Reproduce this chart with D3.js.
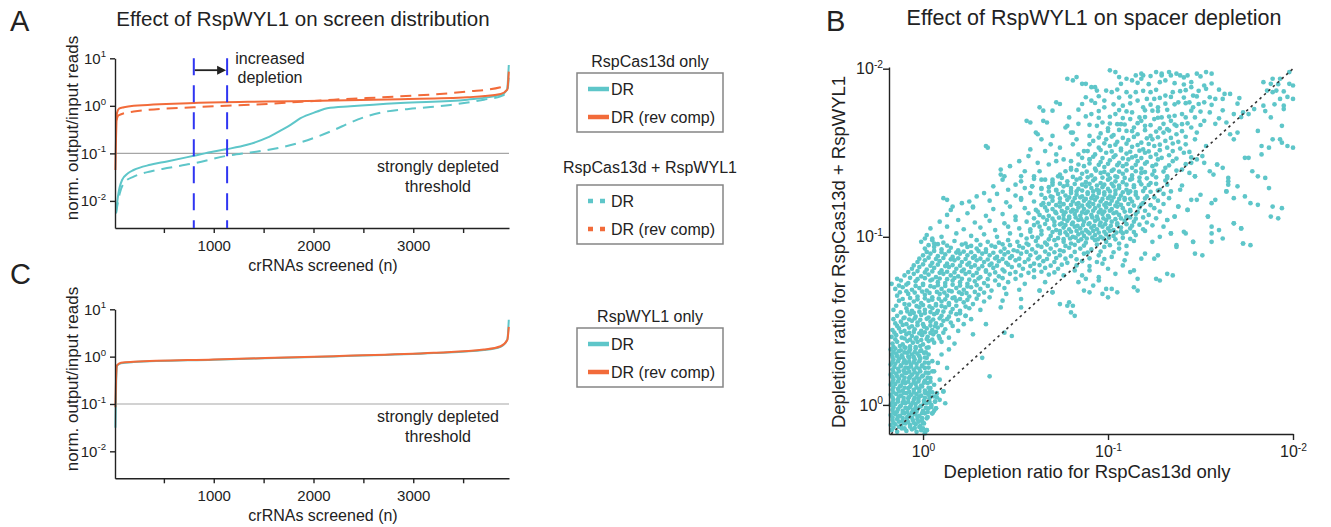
<!DOCTYPE html>
<html>
<head>
<meta charset="utf-8">
<script src="https://cdn.jsdelivr.net/npm/d3@7.9.0/dist/d3.min.js"></script>
<style>
  body { margin: 0; background: #fff; }
  svg text { font-family: "Liberation Sans", Arial, Helvetica, sans-serif; fill: #222; }
</style>
</head>
<body>
<svg id="fig" width="1331" height="527"></svg>
<script>
/* ---------------- data ---------------- */

const DR_COLOR = '#5ec6c9';
const RC_COLOR = '#f26b3a';

// axes
const decadeTicks = [10, 1, 0.1, 0.01];
const rankTicks = [500, 1000, 1500, 2000, 2500, 3000, 3500];
const rankTickLabels = [1000, 2000, 3000];
const depletionTicks = [1, 0.1, 0.01];
const thresholdValue = 0.1;
const depletionShift = [800, 1134];   // blue dashed markers (crRNA rank)

// Panel A: log10(norm. output/input) along crRNA rank
const rankCasDR = [20, 40, 81, 140, 197, 364, 531, 800, 1000, 1134, 1335, 1536, 1669, 1770, 1870, 2037, 2137, 2371, 2873, 3542, 3876, 3940, 3958];
const logCasDR = [-2.26, -1.9, -1.56, -1.42, -1.35, -1.24, -1.17, -1.05, -0.96, -0.91, -0.82, -0.67, -0.52, -0.4, -0.26, -0.12, -0.05, -0.01, 0.06, 0.13, 0.23, 0.34, 0.86];

const rankCasWylDR = [20, 58, 114, 197, 364, 531, 800, 1134, 1369, 1536, 1703, 1870, 2037, 2204, 2371, 2538, 2705, 3040, 3374, 3709, 3876, 3943, 3958];
const logCasWylDR = [-2.26, -1.84, -1.59, -1.49, -1.38, -1.31, -1.21, -1.05, -0.98, -0.93, -0.86, -0.77, -0.65, -0.51, -0.35, -0.22, -0.13, -0.05, 0.02, 0.13, 0.2, 0.3, 0.62];

const rankCasRC = [14, 20, 30, 50, 100, 197, 800, 1536, 2204, 2873, 3542, 3876, 3943, 3958];
const logCasRC = [-1.35, -0.7, -0.15, -0.06, -0.03, 0.0, 0.06, 0.09, 0.11, 0.14, 0.18, 0.25, 0.34, 0.72];

const rankCasWylRC = [25, 45, 197, 800, 1536, 2204, 2873, 3542, 3876, 3950];
const logCasWylRC = [-0.3, -0.2, -0.12, -0.03, 0.04, 0.13, 0.2, 0.3, 0.39, 0.44];

// Panel C: RspWYL1 only
const rankWyl = [14, 22, 31, 70, 197, 1000, 2204, 3207, 3709, 3876, 3943, 3958];
const logWylDR = [-1.5, -0.5, -0.19, -0.14, -0.115, -0.065, 0.005, 0.075, 0.14, 0.21, 0.36, 0.78];
const logWylRC = [-1.07, -0.4, -0.18, -0.13, -0.11, -0.06, 0.01, 0.08, 0.15, 0.22, 0.35, 0.63];

// Panel B: per spacer [-log10 ratio RspCas13d only, -log10 ratio RspCas13d + RspWYL1]
const spacerExponents = [
  // dense cluster near 10^0
  [-.17,-.15],[-.14,-.16],[-.115,-.14],[-.09,-.155],[-.06,-.145],[-.035,-.16],[-.01,-.15],[.01,-.165],[.02,-.15],
  [-.175,-.12],[-.15,-.115],[-.12,-.125],[-.095,-.11],[-.07,-.12],[-.04,-.115],[-.015,-.125],[.005,-.11],
  [-.165,-.09],[-.14,-.085],[-.11,-.095],[-.085,-.08],[-.055,-.09],[-.03,-.085],[-.005,-.095],[.02,-.08],
  [-.175,-.06],[-.15,-.055],[-.125,-.065],[-.1,-.05],[-.075,-.06],[-.045,-.055],[-.02,-.065],[.01,-.05],[.05,-.05],
  [-.165,-.03],[-.135,-.025],[-.11,-.035],[-.08,-.02],[-.055,-.03],[-.03,-.025],[0,-.035],[.03,-.02],[.07,-.02],
  [-.175,0],[-.15,.005],[-.12,-.005],[-.095,.01],[-.065,0],[-.04,.005],[-.01,-.005],[.02,.01],[.045,0],[.065,.02],[.12,.01],
  [-.16,.03],[-.135,.035],[-.105,.025],[-.08,.04],[-.05,.03],[-.025,.035],[.005,.025],[.035,.04],[.06,.05],
  [-.175,.06],[-.145,.065],[-.12,.055],[-.09,.07],[-.065,.06],[-.035,.065],[-.01,.055],[.02,.07],[.05,.075],[.11,.08],
  [-.165,.09],[-.135,.095],[-.11,.085],[-.08,.1],[-.05,.09],[-.02,.095],[.01,.085],[.04,.1],
  [-.175,.12],[-.15,.125],[-.12,.115],[-.095,.13],[-.065,.12],[-.04,.125],[-.01,.115],[.025,.13],[.06,.12],
  [-.16,.15],[-.13,.155],[-.105,.145],[-.075,.16],[-.05,.15],[-.02,.155],[.01,.145],[.04,.16],
  [-.175,.18],[-.145,.185],[-.115,.175],[-.09,.19],[-.06,.18],[-.03,.185],[0,.175],[.03,.19],
  [-.165,.21],[-.135,.215],[-.105,.205],[-.08,.22],[-.05,.21],[-.02,.215],[.01,.22],
  [-.175,.24],[-.15,.245],[-.12,.235],[-.09,.25],[-.065,.24],[-.035,.245],[-.005,.235],[.03,.25],
  [-.16,.27],[-.13,.275],[-.1,.265],[-.075,.28],[-.045,.27],[-.015,.275],[.02,.28],
  [-.17,.3],[-.145,.305],[-.115,.295],[-.085,.31],[-.06,.3],[-.03,.305],[.005,.31],[.03,.3],
  [-.175,.33],[-.15,.335],[-.12,.325],[-.095,.34],[-.07,.33],[-.04,.335],[-.01,.325],[.02,.34],
  [-.16,-.135],[-.13,-.13],[-.1,-.14],[-.07,-.13],[-.045,-.138],[-.02,-.132],[0,-.14],
  [-.165,-.075],[-.135,-.07],[-.11,-.078],[-.085,-.072],[-.06,-.076],[-.03,-.07],[-.005,-.078],[.025,-.072],
  [-.16,-.015],[-.125,-.01],[-.095,-.018],[-.07,-.012],[-.04,-.016],[-.015,-.01],[.015,-.018],[.045,-.012],
  [-.165,.045],[-.13,.05],[-.105,.042],[-.075,.048],[-.045,.044],[-.02,.05],[.01,.042],[.04,.048],[.075,.045],
  [-.16,.105],[-.125,.11],[-.1,.102],[-.07,.108],[-.035,.104],[-.005,.11],[.03,.102],
  [-.165,.165],[-.14,.17],[-.1,.162],[-.07,.168],[-.035,.164],[-.005,.17],[.025,.162],
  [-.155,.225],[-.12,.23],[-.095,.222],[-.065,.228],[-.035,.224],[-.005,.23],[.03,.222],
  [-.165,.285],[-.14,.29],[-.11,.282],[-.08,.288],[-.05,.284],[-.02,.29],[.01,.282],
  [-.16,.345],[-.125,.35],[-.1,.342],[-.07,.348],[-.04,.344],[-.015,.35],[.03,.342],
  [-.16,-.105],[-.13,-.1],[-.105,-.108],[-.08,-.102],[-.05,-.106],[-.025,-.1],[0,-.108],
  [-.16,-.045],[-.14,-.04],[-.11,-.048],[-.085,-.042],[-.06,-.046],[-.035,-.04],[-.005,-.048],[.025,-.042],[.06,-.035],
  [-.165,.015],[-.135,.02],[-.11,.012],[-.08,.018],[-.055,.014],[-.025,.02],[.005,.012],[.035,.018],[.09,.03],
  [-.16,.075],[-.13,.08],[-.105,.072],[-.075,.078],[-.05,.074],[-.02,.08],[.01,.072],[.035,.078],[.075,.07],
  [-.165,.135],[-.135,.14],[-.11,.132],[-.08,.138],[-.05,.134],[-.025,.14],[.005,.132],[.04,.138],
  [-.16,.195],[-.13,.2],[-.1,.192],[-.075,.198],[-.045,.194],[-.015,.2],[.015,.192],[.05,.2],
  [-.165,.255],[-.135,.26],[-.105,.252],[-.075,.258],[-.05,.254],[-.02,.26],[.01,.252],[.05,.26],
  [-.16,.315],[-.13,.32],[-.1,.312],[-.075,.318],[-.045,.314],[-.015,.32],[.015,.312],
  [.01,-.17],[.02,-.15],[.07,-.02],[.05,-.05],[.065,.02],[.11,.08],[.03,.06],
  [.08,.25],[.1,.3],[.14,.33],[.06,.2],[.09,.15],[.13,.22],
  [.36,.17],[.32,.28],[.27,.42],[.48,.41],[.44,.43],[.23,.53],[.26,.51],[.34,.48],
  // band rising from the cluster
  [-.165,.365],[-.14,.375],[-.11,.36],[-.085,.38],[-.055,.37],[-.03,.375],[0,.36],[.03,.38],[.06,.37],[.1,.375],[.17,.365],
  [-.17,.405],[-.145,.415],[-.115,.4],[-.09,.42],[-.06,.41],[-.035,.4],[-.005,.415],[.025,.405],[.055,.42],[.085,.41],[.14,.4],
  [-.165,.445],[-.13,.455],[-.1,.44],[-.075,.46],[-.045,.45],[-.01,.44],[.02,.455],[.05,.445],[.08,.46],[.12,.45],[.19,.44],
  [-.15,.485],[-.12,.495],[-.09,.48],[-.06,.5],[-.03,.49],[0,.48],[.04,.495],[.07,.485],[.11,.5],[.15,.49],[.22,.48],
  [-.14,.53],[-.1,.52],[-.07,.54],[-.04,.525],[-.01,.535],[.03,.52],[.06,.54],[.1,.53],[.14,.525],[.18,.54],[.23,.53],
  [-.16,.565],[-.09,.575],[-.06,.56],[-.02,.58],[.01,.565],[.05,.575],[.08,.56],[.12,.58],[.16,.57],[.2,.56],[.25,.575],[.31,.565],[.42,.58],[.53,.58],
  [-.13,.62],[-.1,.6],[-.05,.615],[-.01,.605],[.03,.62],[.07,.6],[.1,.615],[.14,.605],[.18,.62],[.22,.61],[.27,.6],[.33,.615],[.43,.62],[.53,.63],[.79,.61],
  [-.14,.65],[-.08,.66],[-.03,.645],[.01,.655],[.05,.64],[.09,.66],[.13,.65],[.17,.64],[.21,.66],[.25,.645],[.3,.655],[.36,.64],[.45,.66],[.74,.6],[.8,.55],
  [-.15,.69],[-.11,.7],[-.06,.685],[-.02,.695],[.02,.68],[.06,.7],[.1,.69],[.14,.68],[.18,.695],[.22,.685],[.26,.7],[.31,.69],[.37,.68],[.44,.695],[.52,.685],[.63,.68],[.7,.67],[.87,.68],[.97,.66],[1.02,.69],[1.14,.7],
  [-.17,.72],[-.12,.74],[-.08,.725],[-.04,.735],[0,.72],[.04,.74],[.08,.73],[.12,.725],[.16,.74],[.2,.73],[.24,.72],[.28,.735],[.33,.725],[.39,.74],[.46,.73],[.55,.72],[.66,.73],
  [-.1,.77],[-.05,.78],[-.01,.765],[.03,.775],[.07,.76],[.11,.78],[.15,.77],[.19,.765],[.23,.78],[.27,.77],[.31,.76],[.36,.775],[.41,.765],[.47,.78],[.53,.77],[.6,.76],[.68,.775],[.76,.77],[1.26,.75],[1.32,.78],
  [-.06,.81],[-.02,.82],[.02,.805],[.06,.815],[.1,.8],[.14,.82],[.18,.81],[.22,.805],[.26,.82],[.3,.81],[.34,.8],[.38,.815],[.43,.805],[.48,.82],[.54,.81],[.6,.8],[.66,.815],[.73,.81],[.82,.8],
  [-.03,.85],[.01,.86],[.05,.845],[.09,.855],[.13,.84],[.17,.86],[.21,.85],[.25,.845],[.29,.86],[.33,.85],[.37,.84],[.41,.855],[.45,.845],[.5,.86],[.55,.85],[.6,.84],[.65,.855],[.71,.85],[.78,.845],[.86,.855],[.94,.85],
  [0,.89],[.04,.9],[.08,.885],[.12,.895],[.16,.88],[.2,.9],[.24,.89],[.28,.885],[.32,.9],[.36,.89],[.4,.88],[.44,.895],[.48,.885],[.53,.9],[.58,.89],[.63,.88],[.68,.895],[.74,.89],[.8,.885],[.87,.9],[.95,.89],[1.47,.9],
  [.01,.93],[.06,.94],[.1,.925],[.15,.935],[.19,.92],[.24,.94],[.29,.93],[.34,.925],[.39,.94],[.44,.93],[.49,.92],[.54,.935],[.59,.925],[.64,.94],[.69,.93],[.74,.92],[.79,.935],[.85,.93],[.91,.925],[.98,.94],[1.06,.93],
  [-.01,.97],[.05,.98],[.11,.965],[.17,.975],[.23,.96],[.29,.98],[.35,.97],[.41,.965],[.46,.98],[.51,.97],[.56,.96],[.61,.975],[.66,.965],[.71,.98],[.76,.97],[.8,.96],[.84,.975],[.88,.965],[.93,.98],[.99,.97],[1.06,.96],[1.14,.975],[1.24,.97],[1.37,.95],[1.46,.97],[1.56,.97],[1.62,.99],[1.73,.96],[1.77,.95],
  [.78,.59],[.81,.59],[.82,.53],[.9,.67],[.63,.68],[.7,.67],
  // second pass through the band
  [-.15,.39],[-.1,.395],[-.07,.388],[-.04,.394],[-.01,.386],[.02,.392],[.05,.388],[.09,.395],
  [-.155,.43],[-.12,.435],[-.075,.428],[-.05,.434],[-.02,.426],[.01,.432],[.04,.428],[.07,.435],[.11,.43],
  [-.14,.47],[-.11,.476],[-.06,.468],[-.03,.474],[.005,.466],[.04,.472],[.065,.468],[.1,.475],[.16,.47],
  [-.16,.51],[-.105,.516],[-.075,.508],[-.045,.514],[-.015,.506],[.02,.512],[.055,.508],[.09,.515],[.13,.51],[.19,.505],
  [-.12,.55],[-.085,.556],[-.05,.548],[-.02,.554],[.01,.546],[.04,.552],[.075,.548],[.11,.555],[.15,.55],[.2,.545],
  [-.145,.59],[-.075,.596],[-.035,.588],[0,.594],[.035,.586],[.07,.592],[.1,.588],[.14,.595],[.18,.59],[.23,.585],
  [-.11,.63],[-.07,.636],[-.03,.628],[.01,.634],[.05,.626],[.085,.632],[.12,.628],[.16,.635],[.2,.63],[.24,.625],[.29,.632],
  [-.125,.67],[-.09,.676],[-.045,.668],[-.005,.674],[.035,.666],[.075,.672],[.115,.668],[.155,.675],[.195,.67],[.235,.665],[.28,.672],[.33,.668],
  [-.13,.71],[-.09,.716],[-.04,.708],[0,.714],[.04,.706],[.08,.712],[.12,.708],[.16,.715],[.2,.71],[.24,.705],[.29,.712],[.35,.708],[.41,.714],
  [-.14,.75],[-.07,.756],[-.03,.748],[.01,.754],[.05,.746],[.09,.752],[.13,.748],[.17,.755],[.21,.75],[.25,.745],[.3,.752],[.35,.748],[.43,.754],[.5,.75],
  [-.08,.79],[-.03,.796],[.01,.788],[.05,.794],[.09,.786],[.13,.792],[.17,.788],[.21,.795],[.25,.79],[.29,.785],[.34,.792],[.39,.788],[.44,.794],[.5,.79],[.57,.786],[.64,.792],[.71,.788],
  [-.05,.83],[0,.836],[.04,.828],[.08,.834],[.12,.826],[.16,.832],[.2,.828],[.24,.835],[.28,.83],[.32,.825],[.36,.832],[.4,.828],[.46,.834],[.52,.83],[.58,.826],[.63,.832],[.69,.828],[.75,.834],[.83,.83],[.9,.826],
  [-.02,.87],[.03,.876],[.07,.868],[.11,.874],[.15,.866],[.19,.872],[.23,.868],[.27,.875],[.31,.87],[.35,.865],[.39,.872],[.43,.868],[.47,.874],[.52,.87],[.57,.866],[.62,.872],[.67,.868],[.72,.874],[.77,.87],[.83,.866],[.9,.872],[.98,.868],
  [.02,.91],[.06,.916],[.1,.908],[.14,.914],[.18,.906],[.22,.912],[.26,.908],[.3,.915],[.34,.91],[.38,.905],[.42,.912],[.46,.908],[.51,.914],[.56,.91],[.61,.906],[.66,.912],[.71,.908],[.76,.914],[.82,.91],[.89,.906],[.96,.912],[1.03,.908],
  [.03,.95],[.08,.956],[.13,.948],[.21,.954],[.26,.946],[.31,.952],[.37,.948],[.43,.955],[.47,.95],[.52,.945],[.57,.952],[.62,.948],[.67,.954],[.72,.95],[.77,.946],[.82,.952],[.87,.948],[.94,.954],[1.01,.95],[1.1,.946],
  // below the main band, lower right of the core
  [1.37,.94],[1.51,.89],[1.28,.74],[1.35,.77],[1.16,.75],[1.16,.68],[1.05,.67],[1.0,.64],[.99,.69],[1.12,.79],[1.14,.8],[.95,.76],[.95,.74],[.92,.71],
  [1.0,.81],[1.04,.78],[1.08,.83],[1.09,.86],[1.18,.87],[1.27,.89],[1.25,.87],[1.2,.9],[1.1,.9],[1.02,.88],[.97,.84],[.9,.8],[.86,.77],[.84,.73],[.88,.75],
  // main body
  [.02,1.01],[.1,1.0],[.18,1.02],[.26,1.005],[.33,1.015],[.4,1.0],[.47,1.02],[.53,1.01],[.59,1.0],[.64,1.015],[.69,1.005],[.74,1.02],[.78,1.01],[.81,1.0],[.84,1.015],[.87,1.005],[.9,1.02],[.93,1.01],[.96,1.0],[.99,1.015],[1.03,1.005],[1.08,1.02],[1.15,1.01],[1.28,1.0],[1.34,1.02],[1.41,1.03],[1.6,1.04],[1.56,1.02],
  [.04,1.05],[.13,1.06],[.22,1.045],[.31,1.055],[.39,1.04],[.46,1.06],[.52,1.05],[.58,1.045],[.63,1.06],[.68,1.05],[.72,1.04],[.76,1.055],[.79,1.045],[.82,1.06],[.85,1.05],[.88,1.04],[.91,1.055],[.94,1.045],[.97,1.06],[1.0,1.05],[1.03,1.04],[1.07,1.055],[1.12,1.05],[1.19,1.045],[1.3,1.06],[1.56,1.06],[1.68,1.08],[1.72,1.05],
  [.09,1.09],[.19,1.1],[.28,1.085],[.36,1.095],[.44,1.08],[.5,1.1],[.56,1.09],[.62,1.085],[.67,1.1],[.71,1.09],[.75,1.08],[.78,1.095],[.81,1.085],[.84,1.1],[.87,1.09],[.9,1.08],[.93,1.095],[.96,1.085],[.99,1.1],[1.02,1.09],[1.05,1.08],[1.09,1.095],[1.14,1.09],[1.21,1.085],[1.32,1.1],[1.54,1.12],
  [.13,1.13],[.24,1.14],[.34,1.125],[.43,1.135],[.5,1.12],[.57,1.14],[.63,1.13],[.68,1.125],[.72,1.14],[.76,1.13],[.79,1.12],[.82,1.135],[.85,1.125],[.88,1.14],[.91,1.13],[.94,1.12],[.97,1.135],[1.0,1.125],[1.03,1.14],[1.06,1.13],[1.1,1.12],[1.15,1.135],[1.22,1.13],[1.36,1.12],[1.43,1.16],[1.88,1.12],[1.92,1.11],
  [.15,1.16],[.16,1.18],[.27,1.175],[.38,1.165],[.47,1.18],[.55,1.17],[.61,1.16],[.66,1.175],[.7,1.165],[.74,1.18],[.78,1.17],[.81,1.16],[.84,1.175],[.87,1.165],[.9,1.18],[.93,1.17],[.96,1.16],[.99,1.175],[1.02,1.165],[1.05,1.18],[1.08,1.17],[1.12,1.16],[1.17,1.175],[1.25,1.17],[1.38,1.18],[1.77,1.2],[1.89,1.18],[1.94,1.17],
  [.13,1.22],[.21,1.2],[.25,1.21],[.36,1.215],[.45,1.205],[.53,1.22],[.6,1.21],[.65,1.2],[.7,1.215],[.74,1.205],[.78,1.22],[.81,1.21],[.84,1.2],[.87,1.215],[.9,1.205],[.93,1.22],[.96,1.21],[.99,1.2],[1.02,1.215],[1.05,1.205],[1.09,1.22],[1.13,1.21],[1.19,1.2],[1.27,1.215],[1.45,1.22],[1.48,1.22],[1.58,1.22],[1.68,1.23],[1.81,1.19],
  [.27,1.18],[.29,1.24],[.4,1.255],[.5,1.245],[.58,1.26],[.64,1.25],[.69,1.24],[.73,1.255],[.77,1.245],[.8,1.26],[.83,1.25],[.86,1.24],[.89,1.255],[.92,1.245],[.95,1.26],[.98,1.25],[1.01,1.24],[1.04,1.255],[1.07,1.245],[1.11,1.26],[1.15,1.25],[1.21,1.24],[1.3,1.255],[1.5,1.25],[1.64,1.27],[1.74,1.24],
  [.33,1.26],[.38,1.3],[.55,1.29],[.59,1.3],[.64,1.285],[.68,1.295],[.72,1.28],[.76,1.3],[.8,1.29],[.84,1.285],[.88,1.3],[.91,1.29],[.94,1.28],[.97,1.295],[1.0,1.285],[1.03,1.3],[1.06,1.29],[1.1,1.28],[1.14,1.295],[1.2,1.29],[1.28,1.28],[1.39,1.28],[1.65,1.31],[1.7,1.3],[1.87,1.29],
  [.43,1.34],[.53,1.33],[.6,1.345],[.66,1.34],[.7,1.325],[.73,1.36],[.78,1.33],[.83,1.34],[.88,1.325],[.92,1.335],[.96,1.32],[1.0,1.34],[1.04,1.33],[1.08,1.325],[1.12,1.34],[1.17,1.33],[1.23,1.32],[1.31,1.335],[1.47,1.36],[1.57,1.37],[1.65,1.35],[1.85,1.35],
  [.44,1.36],[.53,1.36],[.6,1.36],[.64,1.34],[.74,1.37],[.8,1.4],[.86,1.375],[.91,1.365],[.96,1.38],[1.0,1.37],[1.04,1.36],[1.08,1.375],[1.13,1.365],[1.18,1.38],[1.24,1.37],[1.32,1.36],[1.44,1.38],[1.55,1.39],[1.81,1.36],
  [.63,1.39],[.68,1.43],[.72,1.45],[.8,1.41],[.87,1.42],[.93,1.405],[.98,1.415],[1.03,1.4],[1.08,1.42],[1.13,1.41],[1.18,1.405],[1.24,1.42],[1.31,1.41],[1.4,1.4],[1.59,1.43],[1.62,1.41],[1.78,1.39],
  [.66,1.51],[.72,1.49],[.76,1.46],[.8,1.45],[.9,1.46],[.96,1.445],[1.01,1.455],[1.06,1.44],[1.11,1.46],[1.16,1.45],[1.21,1.445],[1.27,1.46],[1.35,1.45],[1.45,1.44],[1.52,1.44],[1.74,1.47],[1.76,1.47],[1.83,1.49],
  [.87,1.51],[.9,1.46],[.84,1.49],[.93,1.49],[.99,1.5],[1.04,1.485],[1.1,1.495],[1.15,1.48],[1.2,1.5],[1.26,1.49],[1.33,1.485],[1.41,1.5],[1.51,1.48],[1.48,1.46],
  // dense core
  [.795,.99],[.825,.995],[.855,.985],[.885,.99],[.915,.995],[.945,.985],[.975,.99],[1.005,.995],[1.04,.985],
  [.8,1.03],[.83,1.035],[.86,1.025],[.89,1.03],[.92,1.035],[.95,1.025],[.98,1.03],[1.01,1.035],[1.045,1.025],[1.1,1.03],
  [.77,1.07],[.805,1.075],[.835,1.065],[.865,1.07],[.895,1.075],[.925,1.065],[.955,1.07],[.985,1.075],[1.015,1.065],[1.05,1.07],[1.1,1.075],
  [.79,1.11],[.825,1.115],[.855,1.105],[.885,1.11],[.915,1.115],[.945,1.105],[.975,1.11],[1.005,1.115],[1.04,1.105],[1.07,1.11],[1.12,1.115],
  [.8,1.15],[.83,1.155],[.86,1.145],[.89,1.15],[.92,1.155],[.95,1.145],[.98,1.15],[1.01,1.155],[1.045,1.145],[1.09,1.15],
  [.8,1.19],[.83,1.195],[.86,1.185],[.89,1.19],[.92,1.195],[.95,1.185],[.98,1.19],[1.01,1.195],[1.04,1.185],[1.07,1.19],[1.11,1.195],
  [.82,1.23],[.85,1.235],[.88,1.225],[.91,1.23],[.94,1.235],[.97,1.225],[1.0,1.23],[1.03,1.235],[1.06,1.225],[1.09,1.23],
  [.83,1.27],[.86,1.275],[.89,1.265],[.92,1.27],[.95,1.275],[.98,1.265],[1.01,1.27],[1.04,1.275],[1.08,1.265],[1.12,1.27],
  [.86,1.31],[.9,1.315],[.94,1.305],[.98,1.31],[1.02,1.315],[1.06,1.305],[1.1,1.31],
  // core widened along the band
  [.56,.99],[.62,.995],[.68,.985],[.73,.992],[.76,.986],[1.08,.994],[1.12,.988],
  [.58,1.03],[.64,1.036],[.7,1.028],[.74,1.034],[.77,1.026],[1.07,1.032],[1.14,1.028],[1.2,1.035],
  [.6,1.07],[.66,1.076],[.71,1.068],[.74,1.074],[1.13,1.066],[1.17,1.072],[1.24,1.068],
  [.6,1.11],[.65,1.116],[.7,1.108],[.735,1.114],[.76,1.106],[1.1,1.112],[1.15,1.108],[1.19,1.115],[1.26,1.11],
  [.62,1.15],[.67,1.156],[.715,1.148],[.75,1.154],[.77,1.146],[1.12,1.152],[1.16,1.148],[1.2,1.155],[1.28,1.15],
  [.64,1.19],[.68,1.196],[.72,1.188],[.76,1.194],[1.14,1.186],[1.18,1.192],[1.23,1.188],[1.3,1.195],
  [.66,1.23],[.7,1.236],[.74,1.228],[.79,1.234],[1.12,1.226],[1.16,1.232],[1.2,1.228],[1.25,1.235],[1.33,1.23],
  [.68,1.27],[.72,1.276],[.755,1.268],[.8,1.274],[1.15,1.266],[1.19,1.272],[1.23,1.268],[1.27,1.275],[1.34,1.27],
  [.7,1.31],[.74,1.316],[.78,1.308],[.82,1.314],[1.14,1.306],[1.18,1.312],[1.22,1.308],[1.26,1.315],[1.32,1.31],[1.4,1.305],
  [.75,1.35],[.81,1.356],[.85,1.348],[.89,1.354],[.93,1.346],[.97,1.352],[1.01,1.348],[1.05,1.355],[1.09,1.35],[1.13,1.345],[1.17,1.352],[1.21,1.348],[1.26,1.354],[1.32,1.35],
  [.77,1.39],[.83,1.396],[.885,1.388],[.935,1.394],[.98,1.386],[1.02,1.392],[1.06,1.388],[1.1,1.395],[1.15,1.39],[1.2,1.385],[1.25,1.392],[1.3,1.388],[1.37,1.394],
  [.84,1.43],[.9,1.436],[.95,1.428],[1.0,1.434],[1.05,1.426],[1.1,1.432],[1.15,1.428],[1.2,1.435],[1.26,1.43],[1.33,1.425],[1.42,1.432],
  [.86,1.47],[.92,1.476],[.97,1.468],[1.03,1.474],[1.08,1.466],[1.13,1.472],[1.18,1.468],[1.23,1.475],[1.29,1.47],[1.37,1.465],[1.45,1.472],
  [.89,1.51],[.96,1.516],[1.02,1.508],[1.07,1.514],[1.12,1.506],[1.17,1.512],[1.22,1.508],[1.28,1.515],[1.35,1.51],[1.44,1.505],
  [.9,1.55],[.98,1.556],[1.04,1.548],[1.1,1.554],[1.16,1.546],[1.22,1.552],[1.28,1.548],[1.35,1.555],[1.42,1.55],
  [.95,1.59],[1.02,1.596],[1.08,1.588],[1.14,1.594],[1.21,1.586],[1.27,1.592],[1.34,1.588],[1.42,1.595],
  [1.0,1.63],[1.06,1.636],[1.13,1.628],[1.2,1.634],[1.26,1.626],[1.33,1.632],[1.4,1.628],
  [.47,1.42],[.52,1.45],[.57,1.48],[.55,1.39],[.62,1.44],[.69,1.55],[.74,1.53],[.5,1.31],[.46,1.28],[.58,1.52],[.64,1.58],[.7,1.6],
  // scattered right of the diagonal
  [1.43,1.16],[1.38,1.18],[1.36,1.12],[1.32,1.1],[1.34,1.02],[1.42,1.02],[1.46,.97],[1.56,1.2],[1.47,1.36],[1.54,1.12],[1.59,1.43],[1.64,1.27],[1.65,1.33],[1.72,1.05],[1.73,.96],[1.68,1.08],
  // upper region
  [.35,1.53],[.34,1.54],[.81,1.55],[.95,1.53],[1.01,1.54],[1.07,1.525],[1.13,1.535],[1.19,1.52],[1.25,1.54],[1.32,1.53],[1.39,1.525],[1.53,1.54],[1.87,1.53],[1.83,1.54],[1.97,1.54],[2.0,1.53],
  [.83,1.58],[.92,1.57],[.99,1.58],[1.05,1.565],[1.11,1.575],[1.18,1.56],[1.24,1.58],[1.31,1.57],[1.38,1.565],[1.47,1.58],[1.68,1.58],[1.94,1.56],[1.93,1.58],[1.89,1.58],
  [.61,1.62],[.62,1.61],[.81,1.62],[.9,1.6],[.96,1.615],[1.03,1.605],[1.1,1.63],[1.16,1.61],[1.23,1.6],[1.3,1.62],[1.37,1.61],[1.48,1.62],[1.66,1.61],[1.7,1.62],[1.81,1.63],
  [.77,1.65],[.94,1.66],[1.0,1.645],[1.07,1.67],[1.14,1.65],[1.2,1.66],[1.28,1.645],[1.32,1.64],[1.37,1.66],[1.45,1.65],[1.64,1.68],[1.94,1.66],[.78,1.66],[.8,1.62],
  [.56,1.69],[.58,1.68],[.65,1.69],[.67,1.68],[.97,1.68],[1.05,1.67],[1.12,1.7],[1.18,1.69],[1.25,1.7],[1.34,1.69],[1.4,1.67],[1.52,1.69],[1.88,1.71],
  [.91,1.73],[1.04,1.73],[1.13,1.74],[1.17,1.71],[1.24,1.75],[1.29,1.71],[1.36,1.72],[1.42,1.71],[1.55,1.74],[1.68,1.73],[1.73,1.74],[1.76,1.73],[1.79,1.76],[.63,1.77],[.65,1.75],
  [.72,1.8],[.74,1.79],[.98,1.77],[1.08,1.78],[1.19,1.77],[1.27,1.77],[1.4,1.73],[1.46,1.77],[1.52,1.8],[1.84,1.78],[1.95,1.78],[1.95,1.76],
  [.91,1.81],[.98,1.81],[1.16,1.81],[1.21,1.82],[1.25,1.82],[1.38,1.8],[1.44,1.8],[1.58,1.82],[1.62,1.82],[1.93,1.82],[2.0,1.82],
  [1.02,1.86],[1.1,1.86],[1.15,1.86],[1.23,1.86],[1.31,1.84],[1.35,1.86],[1.46,1.84],[1.53,1.88],[1.66,1.85],[1.89,1.86],[1.91,1.87],[1.63,1.85],
  [.86,1.91],[.91,1.89],[.93,1.89],[.99,1.87],[1.28,1.92],[1.31,1.93],[1.45,1.89],[1.45,1.92],[1.52,1.9],[1.84,1.92],[1.88,1.91],[2.0,1.9],
  [.78,1.94],[.81,1.93],[.83,1.95],[.88,1.91],[1.1,1.94],[1.13,1.93],[1.18,1.94],[1.19,1.96],[1.29,1.96],[1.34,1.96],[1.89,1.94],[1.93,1.94],[1.98,1.91],
  [1.01,1.99],[1.04,1.98],[1.15,1.96],[1.18,1.97],[1.26,1.98],[1.29,1.97],[1.33,1.98],[1.37,1.97],[1.39,1.96],[1.43,1.96],[1.48,1.97],[1.53,1.98],[1.56,1.97],[1.98,1.98],
  [.84,1.672],[.9,1.666],[1.01,1.674],[1.09,1.668],[1.16,1.676],[1.23,1.664],[1.3,1.672],[1.36,1.668],[1.43,1.675],[1.5,1.665],[1.58,1.672],
  [.79,1.71],[.88,1.716],[.95,1.708],[1.01,1.714],[1.08,1.706],[1.2,1.712],[1.27,1.708],[1.33,1.715],[1.47,1.71],[1.6,1.705],[1.72,1.712],
  [.7,1.75],[.84,1.756],[.95,1.748],[1.06,1.754],[1.1,1.746],[1.2,1.752],[1.27,1.748],[1.32,1.755],[1.45,1.75],[1.5,1.745],[1.62,1.752],[1.85,1.748],
  [.86,1.79],[.93,1.796],[1.03,1.788],[1.12,1.794],[1.23,1.786],[1.31,1.792],[1.36,1.788],[1.42,1.795],[1.49,1.79],[1.56,1.785],[1.7,1.792],[1.9,1.788],
  [.88,1.83],[.95,1.836],[1.06,1.828],[1.12,1.834],[1.28,1.826],[1.34,1.832],[1.41,1.828],[1.48,1.835],[1.55,1.83],[1.71,1.825],[1.97,1.832],
  [.94,1.87],[1.05,1.876],[1.19,1.868],[1.26,1.874],[1.39,1.866],[1.42,1.872],[1.49,1.868],[1.6,1.875],[1.86,1.87],[1.95,1.865],
  [1.07,1.91],[1.16,1.916],[1.22,1.908],[1.36,1.914],[1.41,1.906],[1.56,1.912],[1.92,1.908],
  [1.06,1.95],[1.23,1.956],[1.41,1.948],[1.5,1.954],
  [.11,1.23],[.01,.99],[.05,.99],[.06,.96],[.42,1.4],[.42,1.37],[.53,1.23],[.59,1.3],[.64,1.29],[.7,1.34]
];

/* ---------------- scales ---------------- */

const svg = d3.select('#fig');

const xRank = d3.scaleLinear().domain([10, 3960]).range([115, 509]);
const yA = d3.scaleLog().domain([10 ** -2.57, 10]).range([228, 58.3]);
const yC = d3.scaleLog().domain([10 ** -2.57, 10]).range([478.3, 309.3]);

const xB = d3.scaleLog().domain([10 ** 0.184, 0.01]).range([889, 1293]);
const yB = d3.scaleLog().domain([10 ** 0.173, 10 ** -2.01]).range([434, 67]);

/* ---------------- helpers ---------------- */

// "10" with a superscript exponent
function powLabel(sel, exp, size) {
    sel.text(null).attr('font-size', size).attr('fill', '#222');
    sel.append('tspan').text('10');
    sel.append('tspan').attr('font-size', size * 0.64).attr('dy', -size * 0.42).text(exp);
}

function styleAxis(g) {
    g.attr('color', '#222').attr('font-family', null);
    g.selectAll('path, line').attr('stroke-width', 1.4);
}

function addText(x, y, str, size, anchor = 'middle') {
    return svg.append('text').attr('x', x).attr('y', y)
        .attr('font-size', size).attr('text-anchor', anchor).text(str);
}

function drawCurve(g, y, ranks, logs, color, dashed) {
    const line = d3.line()
        .x(d => xRank(d[0]))
        .y(d => y(10 ** d[1]))
        .curve(d3.curveMonotoneX);
    g.append('path')
        .datum(ranks.map((r, i) => [r, logs[i]]))
        .attr('d', line)
        .attr('fill', 'none')
        .attr('stroke', color)
        .attr('stroke-width', 2)
        .attr('stroke-dasharray', dashed ? '11,7' : null);
}

function drawRankAxes(g, y, labelCenterY) {
    const bottom = y.range()[0];
    const gx = g.append('g')
        .attr('transform', `translate(0,${bottom})`)
        .call(d3.axisBottom(xRank).tickValues(rankTicks).tickSize(5).tickSizeOuter(0).tickPadding(7)
            .tickFormat(d => rankTickLabels.includes(d) ? d : ''));
    styleAxis(gx);
    gx.selectAll('.tick text').attr('font-size', 15).attr('fill', '#222');

    const gy = g.append('g')
        .attr('transform', `translate(${xRank.range()[0]},0)`)
        .call(d3.axisLeft(y).tickValues(decadeTicks).tickSize(5).tickSizeOuter(0).tickPadding(4).tickFormat(''));
    styleAxis(gy);
    gy.selectAll('.tick text').each(function (d) {
        powLabel(d3.select(this), Math.round(Math.log10(d)), 15);
    });

    // threshold
    g.insert('line', ':first-child')
        .attr('x1', xRank.range()[0]).attr('x2', xRank.range()[1])
        .attr('y1', y(thresholdValue)).attr('y2', y(thresholdValue))
        .attr('stroke', '#a6a6a6').attr('stroke-width', 1.2);

    addText(323, bottom + 43, 'crRNAs screened (n)', 16);
    svg.append('text')
        .attr('transform', `translate(78,${labelCenterY}) rotate(-90)`)
        .attr('text-anchor', 'middle').attr('font-size', 17)
        .text('norm. output/input reads');
}

function drawLegend(title, titleY, boxY, entries) {
    addText(650, titleY, title, 16);
    svg.append('rect')
        .attr('x', 577).attr('y', boxY).attr('width', 146).attr('height', 59)
        .attr('fill', 'none').attr('stroke', '#858585').attr('stroke-width', 1.5);
    entries.forEach((e, i) => {
        const cy = boxY + 16 + i * 28;
        svg.append('line')
            .attr('x1', 588).attr('x2', 609).attr('y1', cy).attr('y2', cy)
            .attr('stroke', e.color).attr('stroke-width', 4.5)
            .attr('stroke-dasharray', e.dashed ? '5,7' : null);
        addText(611, cy + 6, e.label, 16, 'start');
    });
}

/* ---------------- panel A ---------------- */

addText(10, 31, 'A', 29, 'start');
addText(303, 26, 'Effect of RspWYL1 on screen distribution', 20.5);

const gA = svg.append('g');
const curvesA = gA.append('g');
drawRankAxes(gA, yA, 128);
drawCurve(curvesA, yA, rankCasWylDR, logCasWylDR, DR_COLOR, true);
drawCurve(curvesA, yA, rankCasDR, logCasDR, DR_COLOR, false);
drawCurve(curvesA, yA, rankCasWylRC, logCasWylRC, RC_COLOR, true);
drawCurve(curvesA, yA, rankCasRC, logCasRC, RC_COLOR, false);

// increased depletion markers
gA.selectAll('line.shift')
    .data(depletionShift)
    .join('line')
    .attr('class', 'shift')
    .attr('x1', d => xRank(d)).attr('x2', d => xRank(d))
    .attr('y1', yA.range()[1]).attr('y2', yA.range()[0])
    .attr('stroke', '#2f35f2').attr('stroke-width', 2)
    .attr('stroke-dasharray', '17,10');

const arrowY = yA(10 ** 0.75);
const ax0 = xRank(depletionShift[0]) + 1, ax1 = xRank(depletionShift[1]) - 1;
gA.append('line')
    .attr('x1', ax0).attr('x2', ax1 - 8).attr('y1', arrowY).attr('y2', arrowY)
    .attr('stroke', '#222').attr('stroke-width', 1.8);
gA.append('path')
    .attr('d', `M${ax1},${arrowY}L${ax1 - 9},${arrowY - 4.5}L${ax1 - 9},${arrowY + 4.5}Z`)
    .attr('fill', '#222');

addText(270, 64, 'increased', 16);
addText(270, 83, 'depletion', 16);
addText(438, 172, 'strongly depleted', 16);
addText(438, 192, 'threshold', 16);

drawLegend('RspCas13d only', 67, 73, [
    { label: 'DR', color: DR_COLOR, dashed: false },
    { label: 'DR (rev comp)', color: RC_COLOR, dashed: false }
]);
drawLegend('RspCas13d + RspWYL1', 173, 185, [
    { label: 'DR', color: DR_COLOR, dashed: true },
    { label: 'DR (rev comp)', color: RC_COLOR, dashed: true }
]);

/* ---------------- panel C ---------------- */

addText(10, 284, 'C', 29, 'start');
const gC = svg.append('g');
const curvesC = gC.append('g');
drawRankAxes(gC, yC, 379);
drawCurve(curvesC, yC, rankWyl, logWylDR, DR_COLOR, false);
drawCurve(curvesC, yC, rankWyl, logWylRC, RC_COLOR, false);
addText(438, 422, 'strongly depleted', 16);
addText(438, 442, 'threshold', 16);

drawLegend('RspWYL1 only', 322, 328, [
    { label: 'DR', color: DR_COLOR, dashed: false },
    { label: 'DR (rev comp)', color: RC_COLOR, dashed: false }
]);

/* ---------------- panel B ---------------- */

addText(826, 31, 'B', 29, 'start');
addText(1094, 25, 'Effect of RspWYL1 on spacer depletion', 21.5);

const gB = svg.append('g');
gB.append('g')
    .selectAll('circle')
    .data(spacerExponents)
    .join('circle')
    .attr('cx', d => xB(10 ** -d[0]))
    .attr('cy', d => yB(10 ** -d[1]))
    .attr('r', 2.35)
    .attr('fill', DR_COLOR);

const diag = [10 ** 0.173, 0.01];
gB.append('path')
    .datum(diag)
    .attr('d', d3.line().x(d => xB(d)).y(d => yB(d)))
    .attr('fill', 'none').attr('stroke', '#333').attr('stroke-width', 1.6)
    .attr('stroke-dasharray', '2.5,3.5');

const gBx = gB.append('g')
    .attr('transform', `translate(0,${yB.range()[0]})`)
    .call(d3.axisBottom(xB).tickValues(depletionTicks).tickSize(6).tickSizeOuter(0).tickPadding(6).tickFormat(''));
styleAxis(gBx);
gBx.selectAll('.tick text').each(function (d) {
    powLabel(d3.select(this), Math.round(Math.log10(d)), 16);
});

const gBy = gB.append('g')
    .attr('transform', `translate(${xB.range()[0]},0)`)
    .call(d3.axisLeft(yB).tickValues(depletionTicks).tickSize(6).tickSizeOuter(0).tickPadding(0).tickFormat(''));
styleAxis(gBy);
gBy.selectAll('.tick text').each(function (d) {
    powLabel(d3.select(this), Math.round(Math.log10(d)), 16);
});

addText(1087, 478, 'Depletion ratio for RspCas13d only', 18.5);
svg.append('text')
    .attr('transform', 'translate(845,252) rotate(-90)')
    .attr('text-anchor', 'middle').attr('font-size', 18.5)
    .text('Depletion ratio for RspCas13d + RspWYL1');
</script>
</body>
</html>
